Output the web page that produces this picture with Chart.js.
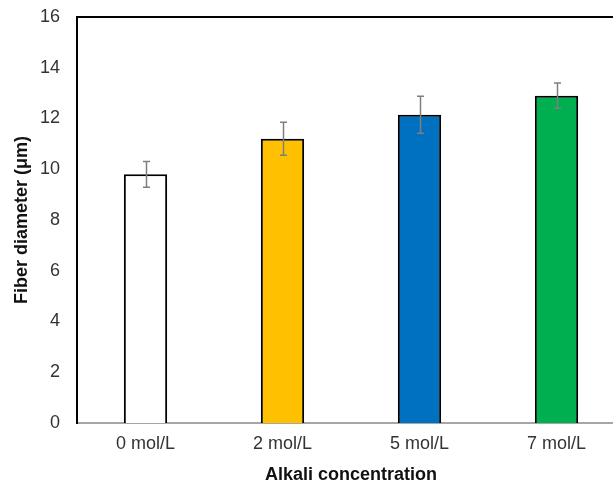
<!DOCTYPE html>
<html>
<head>
<meta charset="utf-8">
<script src="https://cdn.jsdelivr.net/npm/chart.js@4"></script>
<style>
  html, body { margin: 0; padding: 0; background: #fff; overflow: hidden; }
  canvas { display: block; }
</style>
</head>
<body>
<canvas id="c" width="630" height="487"></canvas>
<script>
// Fiber diameter by alkali concentration (mean ± standard deviation)
const categories = ['0 mol/L', '2 mol/L', '5 mol/L', '7 mol/L'];
const diameters = [9.8, 11.2, 12.15, 12.9];
const deviations = [0.51, 0.65, 0.73, 0.5];
const barColors = ['#FFFFFF', '#FFC000', '#0070C0', '#00B050'];
const yTicks = [0, 2, 4, 6, 8, 10, 12, 14, 16];

const FONT = '"Liberation Sans", Arial, sans-serif';

// Error bars drawn from the y scale
const errorBars = {
  id: 'errorBars',
  afterDatasetsDraw(chart) {
    const ctx = chart.ctx;
    const y = chart.scales.y;
    const meta = chart.getDatasetMeta(0);
    ctx.save();
    ctx.strokeStyle = '#7F7F7F';
    ctx.lineWidth = 1.5;
    meta.data.forEach((bar, i) => {
      const x = Math.round(bar.x) + 0.5;
      const top = y.getPixelForValue(diameters[i] + deviations[i]);
      const bot = y.getPixelForValue(diameters[i] - deviations[i]);
      ctx.beginPath();
      ctx.moveTo(x, top); ctx.lineTo(x, bot);
      ctx.moveTo(x - 3.5, top); ctx.lineTo(x + 3.5, top);
      ctx.moveTo(x - 3.5, bot); ctx.lineTo(x + 3.5, bot);
      ctx.stroke();
    });
    ctx.restore();
  }
};

// Black frame line along the top of the plot area
const topFrame = {
  id: 'topFrame',
  afterDraw(chart) {
    const { ctx, chartArea } = chart;
    ctx.save();
    ctx.strokeStyle = '#000';
    ctx.lineWidth = 2;
    ctx.beginPath();
    ctx.moveTo(chartArea.left - 1, chartArea.top);
    ctx.lineTo(chartArea.right, chartArea.top);
    ctx.stroke();
    ctx.restore();
  }
};

new Chart(document.getElementById('c'), {
  type: 'bar',
  data: {
    labels: categories,
    datasets: [{
      data: diameters,
      backgroundColor: barColors,
      borderColor: '#000',
      borderWidth: 2,
      borderSkipped: 'bottom',
      barPercentage: 1,
      categoryPercentage: 0.316
    }]
  },
  options: {
    responsive: false,
    animation: false,
    devicePixelRatio: 1,
    layout: { padding: { left: 11, right: 5, top: 17, bottom: 0 } },
    plugins: { legend: { display: false }, tooltip: { enabled: false } },
    scales: {
      x: {
        grid: { display: false, drawTicks: false },
        border: { display: true, color: '#A6A6A6', width: 2 },
        ticks: { color: '#333', font: { family: FONT, size: 18 }, padding: 10 },
        title: {
          display: true, text: 'Alkali concentration', color: '#111',
          font: { family: FONT, size: 18, weight: 'bold' }, padding: { top: 0, bottom: 1 }
        },
        afterFit(scale) {
          scale.height = 64;
          scale.paddingLeft = 0;
          scale.paddingRight = 0;
        }
      },
      y: {
        min: 0, max: 16,
        grid: { display: false, drawTicks: false },
        border: { display: true, color: '#000', width: 2 },
        afterBuildTicks(scale) { scale.ticks = yTicks.map(v => ({ value: v })); },
        ticks: { color: '#333', font: { family: FONT, size: 18 }, padding: 17 },
        title: {
          display: true, text: 'Fiber diameter (μm)', color: '#111',
          font: { family: FONT, size: 18, weight: 'bold' }, padding: { top: 0, bottom: 0 }
        },
        afterFit(scale) {
          scale.width = 66;
          scale.paddingTop = 0;
          scale.paddingBottom = 0;
        }
      }
    }
  },
  plugins: [errorBars, topFrame]
});
</script>
</body>
</html>
